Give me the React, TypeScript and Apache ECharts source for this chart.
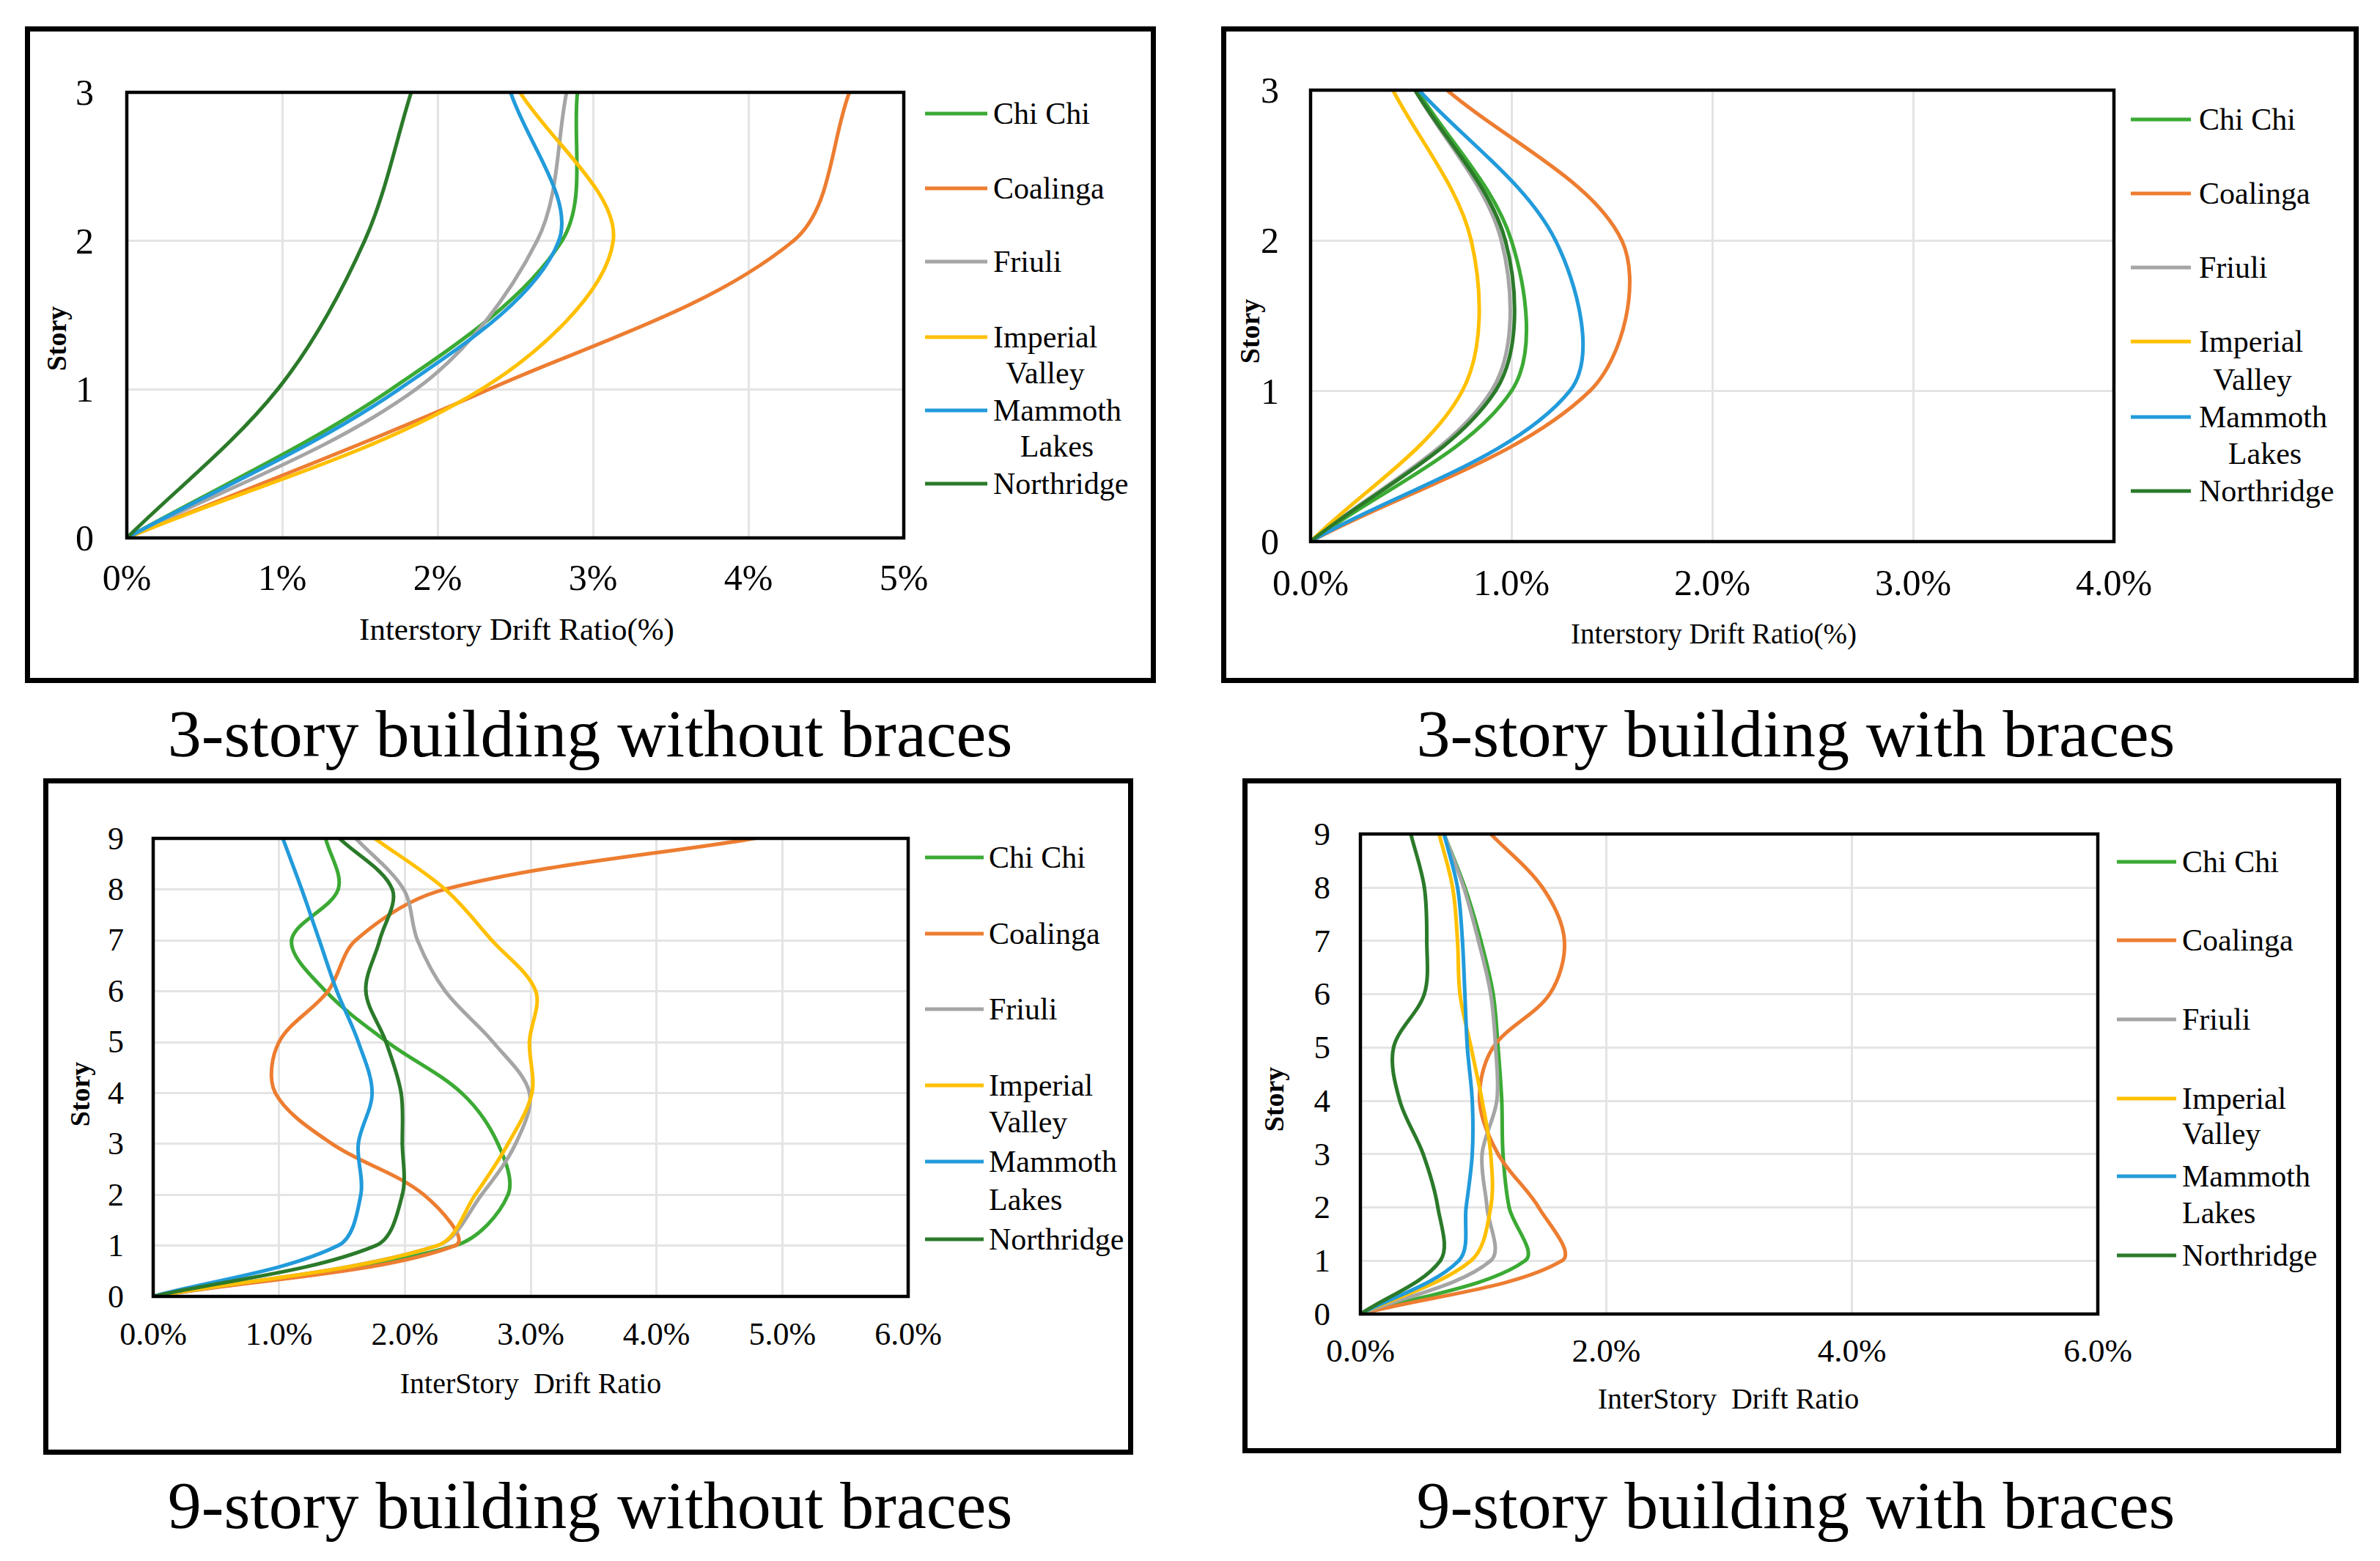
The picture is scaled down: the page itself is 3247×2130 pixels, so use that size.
import React, { useEffect, useRef } from "react";
import * as echarts from "echarts";

const seriesNames = ["Chi Chi", "Coalinga", "Friuli", "Imperial Valley", "Mammoth Lakes", "Northridge"];
const seriesColors = ["#3BAA34", "#ED7D31", "#A5A5A5", "#FFC000", "#229BDB", "#2B7A2A"];
const legendFirstLine = ["Chi Chi", "Coalinga", "Friuli", "Imperial", "Mammoth", "Northridge"];
const legendSecondLine = ["", "", "", "Valley", "Lakes", ""];

const storiesThree = [0, 1, 2, 3];
const storiesNine = [0, 1, 2, 3, 4, 5, 6, 7, 8, 9];

// 3-story building without braces: drift (%) at story 0..3
const a3ChiChi = [0, 1.7, 2.8, 2.9];
const a3Coalinga = [0, 2.33, 4.29, 4.65];
const a3Friuli = [0, 1.86, 2.64, 2.83];
const a3Imperial = [0, 2.28, 3.13, 2.53];
const a3Mammoth = [0, 1.75, 2.78, 2.47];
const a3Northridge = [0, 0.97, 1.53, 1.83];

// 3-story building with braces
const b3ChiChi = [0, 1.0, 1.0, 0.53];
const b3Coalinga = [0, 1.39, 1.55, 0.68];
const b3Friuli = [0, 0.9, 0.95, 0.52];
const b3Imperial = [0, 0.755, 0.8, 0.41];
const b3Mammoth = [0, 1.29, 1.22, 0.54];
const b3Northridge = [0, 0.92, 0.97, 0.52];

// 9-story building without braces: drift (%) at story 0..9
const a9ChiChi = [0, 2.4, 2.82, 2.74, 2.45, 1.86, 1.37, 1.1, 1.47, 1.37];
const a9Coalinga = [0, 2.4, 2.15, 1.42, 0.97, 1.0, 1.39, 1.61, 2.32, 4.78];
const a9Friuli = [0, 2.26, 2.61, 2.88, 2.99, 2.7, 2.32, 2.1, 1.99, 1.61];
const a9Imperial = [0, 2.26, 2.56, 2.82, 3.01, 2.99, 3.04, 2.69, 2.32, 1.76];
const a9Mammoth = [0, 1.47, 1.65, 1.63, 1.74, 1.63, 1.46, 1.32, 1.18, 1.03];
const a9Northridge = [0, 1.77, 1.98, 1.98, 1.97, 1.85, 1.69, 1.8, 1.9, 1.48];

// 9-story building with braces
const b9ChiChi = [0, 1.34, 1.21, 1.16, 1.15, 1.12, 1.08, 0.98, 0.85, 0.68];
const b9Coalinga = [0, 1.64, 1.45, 1.12, 0.97, 1.08, 1.54, 1.66, 1.48, 1.06];
const b9Friuli = [0, 1.06, 1.03, 0.99, 1.11, 1.1, 1.06, 0.96, 0.84, 0.68];
const b9Imperial = [0, 0.9, 1.06, 1.06, 0.99, 0.9, 0.81, 0.79, 0.75, 0.64];
const b9Mammoth = [0, 0.8, 0.86, 0.91, 0.91, 0.87, 0.85, 0.83, 0.79, 0.68];
const b9Northridge = [0, 0.65, 0.63, 0.51, 0.32, 0.27, 0.52, 0.54, 0.52, 0.41];

const FONT = "'Liberation Serif', 'Times New Roman', serif";
const LINE_W = 5;
const SMOOTH = 1 / 3;

const panels = [
  {
    frame: [34, 36, 1577, 932],
    grid: [173, 126, 1060, 608],
    stories: storiesThree,
    drifts: [a3ChiChi, a3Coalinga, a3Friuli, a3Imperial, a3Mammoth, a3Northridge],
    yMax: 3, xMax: 5, xInterval: 1, decimals: 0,
    tickFont: 50, xMargin: 29, yMargin: 45,
    xTitle: "Interstory Drift Ratio(%)", xTitlePos: [705, 858], xTitleFont: 43,
    storyPos: [77, 462],
    caption: "3-story building without braces", captionPos: [805, 1001],
    legend: { lineX: 1262, lineW: 85, textX: 1355, ys: [155, 257, 357, 460, 560, 660], second: [[1426, 509], [1442, 609]], secondAlign: "center" },
  },
  {
    frame: [1666, 36, 3218, 932],
    grid: [1788, 123, 1096, 616],
    stories: storiesThree,
    drifts: [b3ChiChi, b3Coalinga, b3Friuli, b3Imperial, b3Mammoth, b3Northridge],
    yMax: 3, xMax: 4, xInterval: 1, decimals: 1,
    tickFont: 50, xMargin: 31, yMargin: 43,
    xTitle: "Interstory Drift Ratio(%)", xTitlePos: [2338, 864], xTitleFont: 39,
    storyPos: [1705, 452],
    caption: "3-story building with braces", captionPos: [2450, 1001],
    legend: { lineX: 2907, lineW: 82, textX: 3000, ys: [163, 264, 365, 466, 569, 670], second: [[3073, 518], [3090, 619]], secondAlign: "center" },
  },
  {
    frame: [59, 1062, 1546, 1985],
    grid: [209, 1144, 1030, 625],
    stories: storiesNine,
    drifts: [a9ChiChi, a9Coalinga, a9Friuli, a9Imperial, a9Mammoth, a9Northridge],
    yMax: 9, xMax: 6, xInterval: 1, decimals: 1,
    tickFont: 44, xMargin: 29, yMargin: 40,
    xTitle: "InterStory  Drift Ratio", xTitlePos: [724, 1887], xTitleFont: 40,
    storyPos: [109, 1493],
    caption: "9-story building without braces", captionPos: [805, 2054],
    legend: { lineX: 1262, lineW: 80, textX: 1349, ys: [1170, 1274, 1377, 1481, 1585, 1691], second: [[1349, 1531], [1349, 1637]], secondAlign: "left" },
  },
  {
    frame: [1695, 1062, 3194, 1983],
    grid: [1856, 1138, 1006, 655],
    stories: storiesNine,
    drifts: [b9ChiChi, b9Coalinga, b9Friuli, b9Imperial, b9Mammoth, b9Northridge],
    yMax: 9, xMax: 6, xInterval: 2, decimals: 1,
    tickFont: 45, xMargin: 27, yMargin: 41,
    xTitle: "InterStory  Drift Ratio", xTitlePos: [2358, 1908], xTitleFont: 40,
    storyPos: [1738, 1500],
    caption: "9-story building with braces", captionPos: [2450, 2054],
    legend: { lineX: 2888, lineW: 81, textX: 2977, ys: [1176, 1283, 1391, 1499, 1605, 1713], second: [[2977, 1547], [2977, 1655]], secondAlign: "left" },
  },
];

// Control points around point p (length-weighted tangent, as spreadsheet smoothed lines do).
function controlPoints(prev: number[], p: number[], next: number[]) {
  const vx = next[0] - prev[0];
  const vy = next[1] - prev[1];
  const d0 = Math.hypot(p[0] - prev[0], p[1] - prev[1]);
  const d1 = Math.hypot(next[0] - p[0], next[1] - p[1]);
  const r = d0 + d1 > 0 ? d1 / (d0 + d1) : 0.5;
  return {
    before: [p[0] - vx * SMOOTH * (1 - r), p[1] - vy * SMOOTH * (1 - r)],
    after: [p[0] + vx * SMOOTH * r, p[1] + vy * SMOOTH * r],
  };
}

// Smooth segment between data point i-1 and i, positioned through the axes' own coord().
function makeRenderItem(xs: number[], ys: number[], color: string) {
  const n = xs.length;
  return (params: any, api: any) => {
    const i = params.dataIndex;
    if (i === 0) return null;
    const pt = (k: number) => {
      const c = Math.max(0, Math.min(n - 1, k));
      return api.coord([xs[c], ys[c]]);
    };
    const p0 = pt(i - 2);
    const p1 = pt(i - 1);
    const p2 = pt(i);
    const p3 = pt(i + 1);
    const c1 = controlPoints(p0, p1, p2).after;
    const c2 = controlPoints(p1, p2, p3).before;
    return {
      type: "bezierCurve",
      silent: true,
      shape: {
        x1: p1[0], y1: p1[1], x2: p2[0], y2: p2[1],
        cpx1: c1[0], cpy1: c1[1], cpx2: c2[0], cpy2: c2[1],
      },
      style: { stroke: color, lineWidth: LINE_W, fill: "none", lineCap: "round" },
    };
  };
}

function buildOption() {
  const grids: any[] = [];
  const xAxes: any[] = [];
  const yAxes: any[] = [];
  const series: any[] = [];
  const graphics: any[] = [];

  panels.forEach((p, i) => {
    const [gl, gt, gw, gh] = p.grid;
    grids.push({ left: gl, top: gt, width: gw, height: gh, show: false, containLabel: false });
    xAxes.push({
      gridIndex: i, type: "value", min: 0, max: p.xMax, interval: p.xInterval,
      axisLine: { show: false }, axisTick: { show: false },
      splitLine: { show: true, lineStyle: { color: "#E4E4E4", width: 3 } },
      axisLabel: {
        margin: p.xMargin, fontSize: p.tickFont, fontFamily: FONT, color: "#000",
        formatter: (v: number) => v.toFixed(p.decimals) + "%",
      },
    });
    yAxes.push({
      gridIndex: i, type: "value", min: 0, max: p.yMax, interval: 1,
      axisLine: { show: false }, axisTick: { show: false },
      splitLine: { show: true, lineStyle: { color: "#E4E4E4", width: 3 } },
      axisLabel: { margin: p.yMargin, fontSize: p.tickFont, fontFamily: FONT, color: "#000" },
    });
    p.drifts.forEach((d, j) => {
      series.push({
        type: "custom", name: seriesNames[j], xAxisIndex: i, yAxisIndex: i,
        coordinateSystem: "cartesian2d",
        data: p.stories.map((s, k) => [d[k], s]),
        encode: { x: 0, y: 1 },
        clip: true,
        silent: true,
        itemStyle: { color: seriesColors[j] },
        renderItem: makeRenderItem(d, p.stories, seriesColors[j]),
      });
    });

    // outer frame
    const [fx0, fy0, fx1, fy1] = p.frame;
    graphics.push({
      type: "rect", silent: true, z: 100,
      shape: { x: fx0 + 3.5, y: fy0 + 3.5, width: fx1 - fx0 - 7, height: fy1 - fy0 - 7 },
      style: { fill: "none", stroke: "#000", lineWidth: 7 },
    });
    // plot border
    graphics.push({
      type: "rect", silent: true, z: 100,
      shape: { x: gl, y: gt, width: gw, height: gh },
      style: { fill: "none", stroke: "#000", lineWidth: 4.5 },
    });
    // x title
    graphics.push({
      type: "text", silent: true, z: 100, x: p.xTitlePos[0], y: p.xTitlePos[1],
      style: { text: p.xTitle, fontSize: p.xTitleFont, fontFamily: FONT, fill: "#000", align: "center", verticalAlign: "middle" },
    });
    // y title
    graphics.push({
      type: "text", silent: true, z: 100, x: p.storyPos[0], y: p.storyPos[1], rotation: Math.PI / 2,
      style: { text: "Story", fontSize: 38, fontWeight: "bold", fontFamily: FONT, fill: "#000", align: "center", verticalAlign: "middle" },
    });
    // caption
    graphics.push({
      type: "text", silent: true, z: 100, x: p.captionPos[0], y: p.captionPos[1],
      style: { text: p.caption, fontSize: 92, fontFamily: FONT, fill: "#000", align: "center", verticalAlign: "middle" },
    });
    // legend
    const L = p.legend;
    let secondIdx = 0;
    seriesNames.forEach((_, j) => {
      const y = L.ys[j];
      graphics.push({
        type: "line", silent: true, z: 100,
        shape: { x1: L.lineX, y1: y, x2: L.lineX + L.lineW, y2: y },
        style: { stroke: seriesColors[j], lineWidth: LINE_W },
      });
      graphics.push({
        type: "text", silent: true, z: 100, x: L.textX, y: y,
        style: { text: legendFirstLine[j], fontSize: 42, fontFamily: FONT, fill: "#000", align: "left", verticalAlign: "middle" },
      });
      if (legendSecondLine[j]) {
        const pos = L.second[secondIdx++];
        graphics.push({
          type: "text", silent: true, z: 100, x: pos[0], y: pos[1],
          style: { text: legendSecondLine[j], fontSize: 42, fontFamily: FONT, fill: "#000", align: L.secondAlign, verticalAlign: "middle" },
        });
      }
    });
  });

  return {
    animation: false,
    backgroundColor: "#FFFFFF",
    textStyle: { fontFamily: FONT },
    grid: grids,
    xAxis: xAxes,
    yAxis: yAxes,
    series,
    graphic: { elements: graphics },
  };
}

export default function App() {
  const ref = useRef<HTMLDivElement>(null);
  useEffect(() => {
    if (!ref.current) return;
    const chart = echarts.init(ref.current, undefined, { renderer: "svg" });
    chart.setOption(buildOption() as any);
    return () => chart.dispose();
  }, []);
  return (
    <div
      ref={ref}
      style={{ position: "fixed", left: 0, top: 0, width: 3247, height: 2130, background: "#fff" }}
    />
  );
}
